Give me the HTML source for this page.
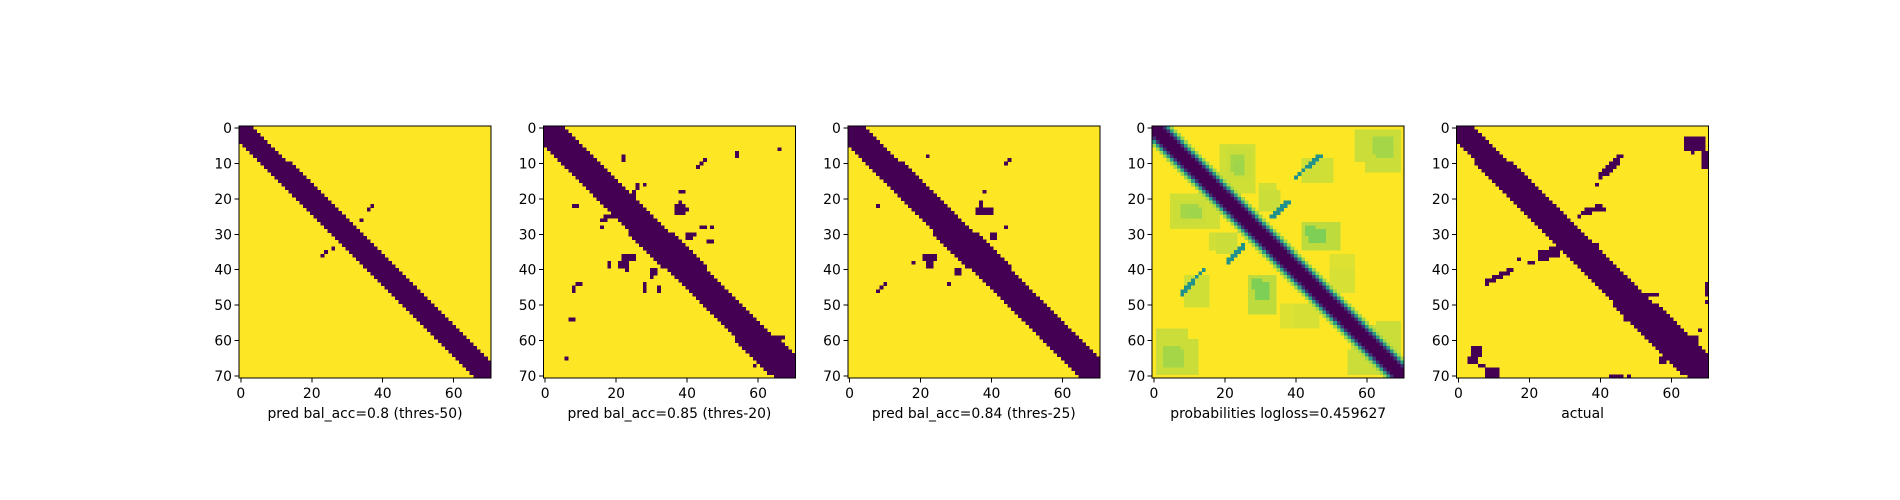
<!DOCTYPE html>
<html><head><meta charset="utf-8"><style>
body{margin:0;background:#fff;}
svg{display:block;font-family:"DejaVu Sans","Liberation Sans",sans-serif;}
</style></head><body>
<svg id="fig" width="1900" height="500" viewBox="0 0 1900 500" shape-rendering="crispEdges"></svg>
<script>
const N = 71;
const xTicks = [0, 20, 40, 60];
const yTicks = [0, 10, 20, 30, 40, 50, 60, 70];
const titles = ["pred bal_acc=0.8 (thres-50)", "pred bal_acc=0.85 (thres-20)", "pred bal_acc=0.84 (thres-25)", "probabilities logloss=0.459627", "actual"];
// band offsets per 10-row segment: [lo, hi] relative to diagonal
const band1 = [[-4,3],[-4,4],[-4,4],[-4,4],[-4,4],[-4,4],[-4,4],[-4,3]];
const band2 = [[-5,5],[-5,5],[-5,5],[-6,6],[-5,5],[-5,5],[-6,6],[-5,5]];
const band3 = [[-5,4],[-5,5],[-5,5],[-6,6],[-5,5],[-5,5],[-5,5],[-5,4]];
const band5 = [[-4,4],[-5,5],[-5,5],[-5,5],[-5,5],[-6,6],[-6,6],[-5,5]];
// extra dark rectangles [r0,c0,r1,c1] inclusive
const blobs1 = [[22,37,22,37],[23,36,23,36],[26,34,26,34],[34,26,34,26],[35,24,35,24],[36,23,36,23],[26,28,29,30]];
const blobs2 = [[8,22,9,22],[9,45,9,45],[10,44,10,44],[11,43,11,43],[7,54,8,54],[6,66,6,66],[16,26,17,26],[18,25,19,25],[16,28,16,28],[18,38,18,39],[22,37,24,39],[21,38,21,38],[23,40,23,40],[22,8,22,9],[25,17,25,19],[26,16,26,17],[28,16,28,16],[28,44,28,45],[28,47,28,47],[30,40,30,42],[31,40,31,41],[32,46,32,47],[36,22,37,25],[38,21,39,23],[40,23,40,23],[38,18,39,18],[40,30,41,31],[42,30,42,30],[44,28,45,28],[46,28,46,28],[45,32,46,32],[44,9,44,10],[45,8,45,8],[46,8,46,8],[54,7,54,8],[65,6,65,6],[59,65,59,67],[61,60,66,67],[67,59,67,59]];
const blobs3 = [[8,22,8,22],[9,45,9,45],[10,44,10,44],[18,38,18,38],[21,37,22,37],[23,36,24,40],[22,8,22,8],[28,44,28,44],[30,40,31,41],[36,21,37,24],[38,22,39,23],[38,18,38,18],[40,30,41,31],[44,28,44,28],[44,10,44,10],[45,9,45,9],[46,8,46,8]];
const blobs5 = [[3,64,6,69],[7,66,7,66],[7,69,11,70],[8,45,8,46],[9,44,9,45],[10,43,10,45],[11,42,11,44],[12,41,12,43],[13,40,13,42],[14,40,14,40],[16,39,16,39],[22,39,22,40],[23,36,23,41],[24,35,24,37],[25,34,25,34],[33,39,36,39],[34,26,36,28],[35,23,37,25],[38,20,38,21],[37,17,37,17],[40,14,40,15],[41,12,41,14],[42,10,42,12],[43,8,43,10],[44,8,44,8],[44,70,47,70],[47,53,47,56],[49,70,49,70],[52,47,54,48],[57,68,57,68],[59,64,60,67],[62,60,66,66],[65,57,66,58],[62,4,64,6],[65,3,66,5],[67,6,67,7],[68,8,70,11],[70,43,70,46],[70,48,70,48],[66,66,70,70]];
// probability panel: patches [r0,c0,r1,c1,value]
const probPatches = [[6,21,14,27,0.92],[10,23,13,25,0.85],[19,5,28,18,0.93],[22,8,25,12,0.86],[1,57,9,68,0.92],[3,62,7,66,0.86],[60,1,69,12,0.92],[63,3,67,8,0.86],[42,27,52,34,0.9],[44,29,48,32,0.8],[27,42,33,48,0.9],[28,43,30,45,0.8],[9,42,15,48,0.93],[44,9,50,15,0.93],[61,56,69,63,0.92],[55,63,63,69,0.92],[30,18,35,23,0.92],[16,30,22,34,0.93],[50,40,56,46,0.94],[36,50,42,56,0.95]];
const probArm = [[8,46],[9,45],[10,44],[11,43],[12,42],[13,41],[14,40],[21,37],[22,36],[23,35],[24,34],[25,33],[34,25],[35,24],[36,23],[37,22],[38,21],[44,11],[45,10],[46,9],[47,8]];
const probBand = [0.0, 0.0, 0.0, 0.15, 0.55, 0.85];

const svg = document.getElementById('fig');
const NS = 'http://www.w3.org/2000/svg';
const left0 = 239, top0 = 126, size = 252, gap = 304.4;
const cell = size / N;
function viridis(v){
  const st=[[68,1,84],[59,82,139],[33,145,140],[94,201,98],[253,231,37]];
  v=Math.max(0,Math.min(1,v)); const f=v*4, i=Math.min(3,Math.floor(f)), t=f-i;
  const c=st[i].map((a,k)=>Math.round(a+(st[i+1][k]-a)*t));
  return `rgb(${c[0]},${c[1]},${c[2]})`;
}
function mk(tag, attrs, parent){const e=document.createElementNS(NS,tag);for(const k in attrs)e.setAttribute(k,attrs[k]);(parent||svg).appendChild(e);return e;}
function binaryMatrix(band, blobs){
  const m=[];for(let r=0;r<N;r++){m.push(new Array(N).fill(1));const b=band[Math.min(7,Math.floor(r/10))];
    for(let c=r+b[0];c<=r+b[1];c++) if(c>=0&&c<N) m[r][c]=0;}
  blobs.forEach(b=>{for(let r=b[0];r<=b[2];r++)for(let c=b[1];c<=b[3];c++){m[r][c]=0;}});
  return m;
}
function probMatrix(){
  const m=[];for(let r=0;r<N;r++)m.push(new Array(N).fill(1));
  probPatches.forEach(p=>{for(let r=p[0];r<=p[2];r++)for(let c=p[1];c<=p[3];c++){m[r][c]=Math.min(m[r][c],p[4]);m[c][r]=Math.min(m[c][r],p[4]);}});
  probArm.forEach(a=>{m[a[0]][a[1]]=0.5;m[a[1]][a[0]]=0.5;});
  for(let r=0;r<N;r++)for(let d=-5;d<=5;d++){const c=r+d;if(c>=0&&c<N)m[r][c]=Math.min(m[r][c],probBand[Math.abs(d)]);}
  return m;
}
const mats=[binaryMatrix(band1,blobs1),binaryMatrix(band2,blobs2),binaryMatrix(band3,blobs3),probMatrix(),binaryMatrix(band5,blobs5)];
const names=['pred-thres50','pred-thres20','pred-thres25','probabilities','actual'];
mats.forEach((m,p)=>{
  const x0=left0+p*gap, y0=top0;
  const g=mk('g',{});
  
  
  const xs=c=>x0+(c+0.5)*cell, ys=r=>y0+(r+0.5)*cell;
  mk('rect',{x:x0,y:y0,width:size,height:size,fill:viridis(1)},g);
  for(let r=0;r<N;r++)for(let c=0;c<N;c++){
    if(m[r][c]>=1)continue;
    const e=mk('rect',{x:(xs(c)-cell/2).toFixed(2),y:(ys(r)-cell/2).toFixed(2),width:(cell+0.3).toFixed(2),height:(cell+0.3).toFixed(2),fill:viridis(m[r][c])},g);
    
    
  }
  mk('rect',{x:x0,y:y0,width:size,height:size,fill:'none',stroke:'#000','stroke-width':1},g);
  xTicks.forEach(t=>{
    mk('line',{x1:xs(t),x2:xs(t),y1:y0+size,y2:y0+size+4.5,stroke:'#000'},g);
    const tx=mk('text',{x:xs(t),y:y0+size+20,'font-size':13.9,'text-anchor':'middle'},g);tx.textContent=t;
    
    
  });
  yTicks.forEach(t=>{
    mk('line',{x1:x0-4.5,x2:x0,y1:ys(t),y2:ys(t),stroke:'#000'},g);
    const tx=mk('text',{x:x0-7,y:ys(t)+5,'font-size':13.9,'text-anchor':'end'},g);tx.textContent=t;
    
    
  });
  const tt=mk('text',{x:x0+size/2,y:y0+size+40,'font-size':13.9,'text-anchor':'middle'},g);tt.textContent=titles[p];
  
  
});
</script>
</body></html>
